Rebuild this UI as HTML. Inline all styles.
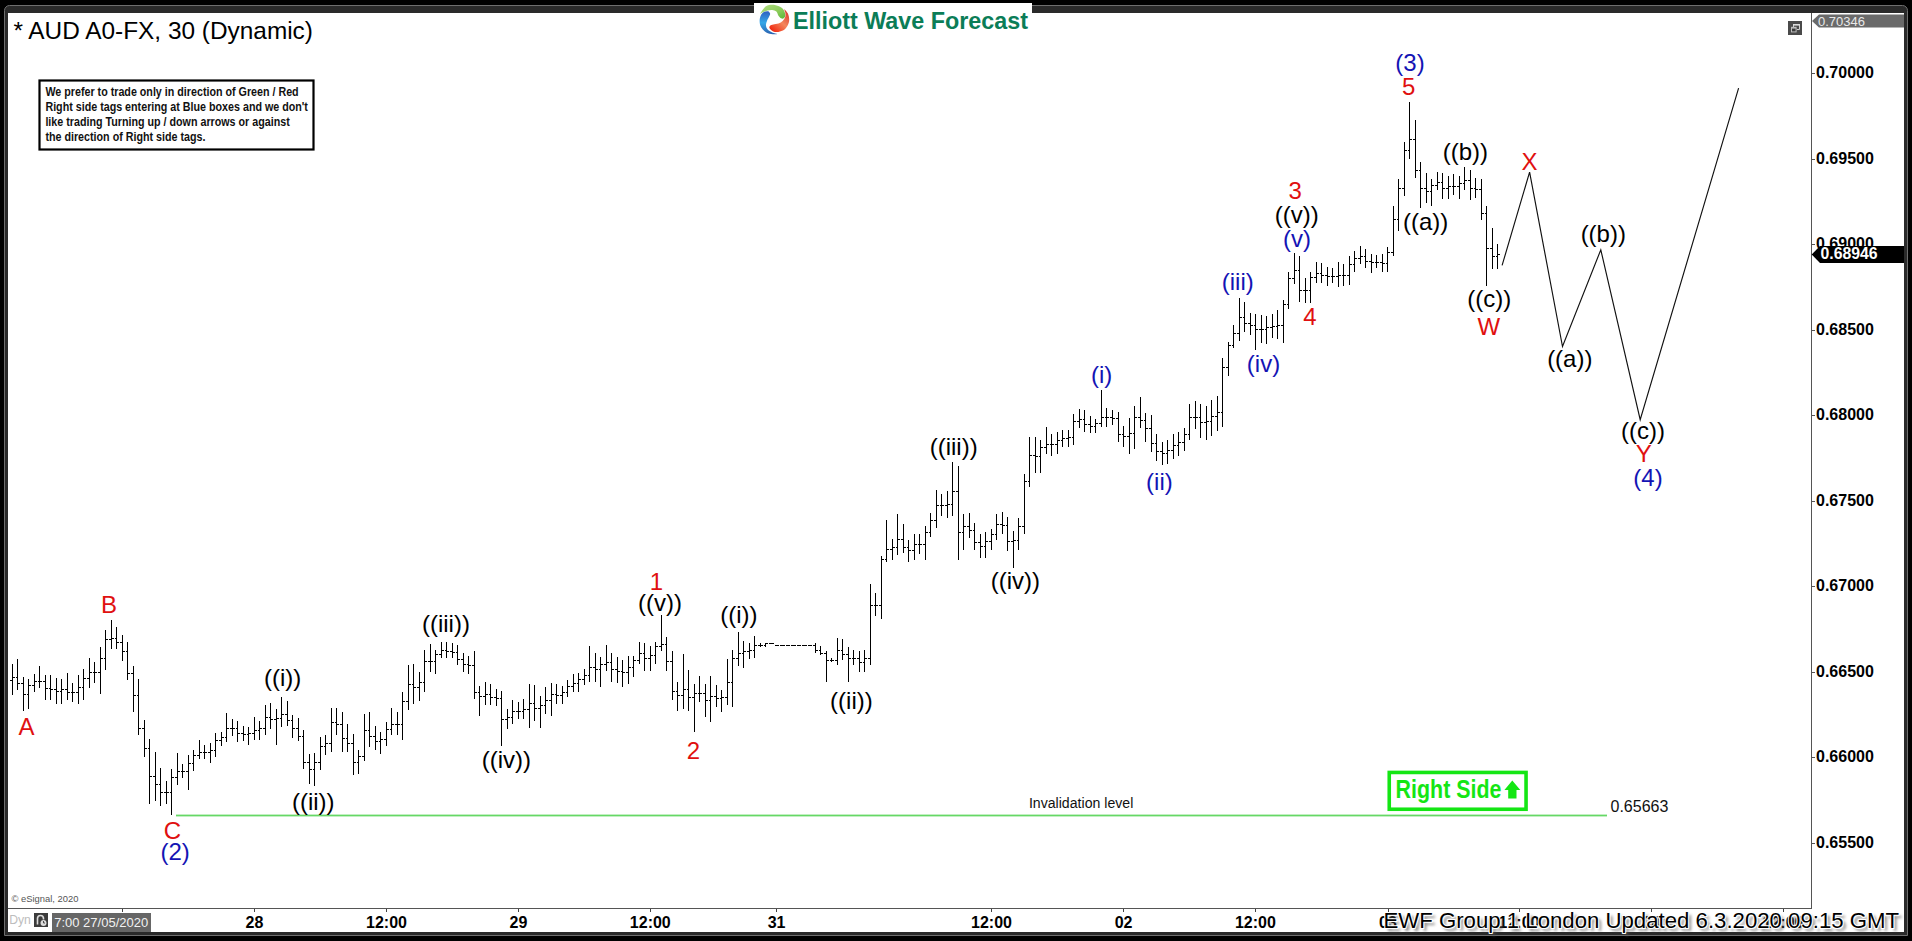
<!DOCTYPE html>
<html><head><meta charset="utf-8"><style>
html,body{margin:0;padding:0;background:#000;width:1912px;height:941px;overflow:hidden}
svg{position:absolute;left:0;top:0;display:block}
text{font-family:"Liberation Sans",sans-serif}
</style></head><body>
<svg width="1912" height="941" viewBox="0 0 1912 941">
<defs>
<filter id="sh" x="-5%" y="-50%" width="110%" height="200%"><feGaussianBlur stdDeviation="1.4"/></filter>
<linearGradient id="gG" x1="0" y1="0" x2="1" y2="1"><stop offset="0" stop-color="#b0dc80"/><stop offset="0.6" stop-color="#8ccb5a"/><stop offset="1" stop-color="#58b838"/></linearGradient>
<linearGradient id="gR" x1="0.8" y1="0" x2="0.1" y2="0.9"><stop offset="0" stop-color="#d83a30"/><stop offset="0.5" stop-color="#f4875c"/><stop offset="1" stop-color="#f02a12"/></linearGradient>
<linearGradient id="gB" x1="0" y1="0" x2="0" y2="1"><stop offset="0" stop-color="#2f5fbf"/><stop offset="0.5" stop-color="#35a8e8"/><stop offset="1" stop-color="#2a62b0"/></linearGradient>
</defs>
<rect x="0" y="0" width="1912" height="941" fill="#000"/>
<path d="M4.5 935.5V10.5A5 5 0 0 1 9.5 5.5H1902.5A5 5 0 0 1 1907.5 10.5V935.5Z" fill="#2a2a2a" stroke="#6e6e6e" stroke-width="1"/>
<rect x="8" y="13" width="1896" height="919" fill="#fff"/>
<!-- logo box -->
<rect x="754" y="3" width="278" height="12" fill="#fff"/>
<g>
<path d="M760.17 13.60C760.60 12.64 763.92 7.76 765.92 6.28C767.93 4.79 770.02 4.71 772.20 4.71C774.38 4.71 777.08 5.40 779.00 6.28C780.91 7.15 782.66 8.46 783.70 9.94C784.75 11.42 785.27 13.77 785.27 15.17C785.27 16.56 784.40 17.78 783.70 18.31C783.01 18.83 781.96 18.74 781.09 18.31C780.22 17.87 779.26 16.82 778.47 15.69C777.69 14.56 777.43 12.47 776.38 11.51C775.33 10.55 773.68 10.11 772.20 9.94C770.71 9.76 768.97 10.11 767.49 10.46C766.01 10.81 764.53 11.51 763.31 12.03C762.09 12.55 759.73 14.56 760.17 13.60Z" fill="url(#gG)"/>
<path d="M784.23 9.15C784.66 9.33 787.06 11.81 787.89 13.60C788.72 15.39 789.19 17.96 789.19 19.87C789.19 21.79 788.72 23.45 787.89 25.10C787.06 26.76 785.79 28.68 784.23 29.81C782.66 30.94 780.30 31.64 778.47 31.90C776.64 32.17 774.72 31.99 773.24 31.38C771.76 30.77 770.10 29.20 769.58 28.24C769.06 27.28 769.49 26.24 770.10 25.63C770.71 25.02 771.85 24.93 773.24 24.58C774.64 24.23 776.90 24.15 778.47 23.54C780.04 22.93 781.52 22.05 782.66 20.92C783.79 19.79 784.84 18.13 785.27 16.74C785.71 15.34 785.45 13.82 785.27 12.55C785.10 11.29 783.79 8.98 784.23 9.15Z" fill="url(#gR)"/>
<path d="M777.43 34.00C777.25 34.26 773.24 34.43 771.15 34.00C769.06 33.56 766.62 32.69 764.87 31.38C763.13 30.07 761.56 27.89 760.69 26.15C759.82 24.41 759.64 22.66 759.64 20.92C759.64 19.18 759.99 17.17 760.69 15.69C761.39 14.21 762.61 12.77 763.83 12.03C765.05 11.29 766.97 10.98 768.01 11.24C769.06 11.51 769.93 12.68 770.10 13.60C770.28 14.51 769.58 15.52 769.06 16.74C768.54 17.96 767.49 19.53 766.97 20.92C766.44 22.32 765.83 23.71 765.92 25.10C766.01 26.50 766.44 28.07 767.49 29.29C768.54 30.51 770.54 31.64 772.20 32.43C773.85 33.21 777.60 33.73 777.43 34.00Z" fill="url(#gB)"/>
</g>
<g transform="translate(792.9 0) scale(0.981 1)"><text x="0" y="29.2" font-size="23.8" font-weight="bold" fill="#0b7d57">Elliott Wave Forecast</text></g>
<!-- title -->
<text x="13.4" y="38.8" font-size="24.4" fill="#000">* AUD A0-FX, 30 (Dynamic)</text>
<!-- note box -->
<rect x="39.5" y="80.5" width="274" height="69" fill="#fff" stroke="#000" stroke-width="2.2"/>
<g font-size="13" font-weight="bold" fill="#111" transform="translate(45.4 0) scale(0.824 1)">
<text x="0" y="96.4">We prefer to trade only in direction of Green / Red</text>
<text x="0" y="111.4">Right side tags entering at Blue boxes and we don't</text>
<text x="0" y="126.4">like trading Turning up / down arrows or against</text>
<text x="0" y="141.4">the direction of Right side tags.</text>
</g>
<!-- restore icon -->
<rect x="1788" y="21" width="14" height="14" fill="#4a4a4a"/>
<path d="M1793.5 29V24.5H1799.5V29.5H1797" fill="none" stroke="#cfcfcf" stroke-width="1"/><rect x="1793" y="24" width="7" height="1.6" fill="#dcdcdc"/>
<rect x="1791" y="26.8" width="5.6" height="5.6" fill="#bdbdbd"/><rect x="1792" y="28.6" width="3.6" height="2.8" fill="#3a3a3a"/>
<!-- axes -->
<path d="M1811.5 13V908.5M8 908.5H1811.5" stroke="#555" stroke-width="1" fill="none" shape-rendering="crispEdges"/>
<path d="M1811 73.5H1815M1811 159.5H1815M1811 244.5H1815M1811 330.5H1815M1811 415.5H1815M1811 501.5H1815M1811 586.5H1815M1811 672.5H1815M1811 757.5H1815M1811 843.5H1815" stroke="#555" stroke-width="1" fill="none" shape-rendering="crispEdges"/>
<path d="M122.5 909V912M254.5 909V912M386.5 909V912M518.5 909V912M650.5 909V912M776.5 909V912M991.5 909V912M1123.5 909V912M1255.5 909V912M1388.5 909V912M1519.5 909V912M1651.5 909V912M1783.5 909V912" stroke="#444" stroke-width="1" fill="none" shape-rendering="crispEdges"/>
<g font-size="16" font-weight="bold" fill="#000"><text x="1816" y="78">0.70000</text><text x="1816" y="164">0.69500</text><text x="1816" y="249">0.69000</text><text x="1816" y="335">0.68500</text><text x="1816" y="420">0.68000</text><text x="1816" y="506">0.67500</text><text x="1816" y="591">0.67000</text><text x="1816" y="677">0.66500</text><text x="1816" y="762">0.66000</text><text x="1816" y="848">0.65500</text></g>
<g font-size="16" font-weight="bold" fill="#000" text-anchor="middle"><text x="254.4" y="927.5">28</text><text x="386.5" y="927.5">12:00</text><text x="518.5" y="927.5">29</text><text x="650.3" y="927.5">12:00</text><text x="776.6" y="927.5">31</text><text x="991.5" y="927.5">12:00</text><text x="1123.6" y="927.5">02</text><text x="1255.4" y="927.5">12:00</text><text x="1388" y="927.5">03</text><text x="1519" y="927.5">12:00</text><text x="1651.5" y="927.5">04</text><text x="1783" y="927.5">12:00</text></g>
<!-- top price label -->
<path d="M1812 21 L1819 14.5 H1904 V27.5 H1819 Z" fill="#6a6a6a"/>
<text x="1818" y="25.6" font-size="13" fill="#e8e8e8">0.70346</text>
<!-- bars -->
<path d="M12.5 664V695M10 680.5H12M13 677.5H15M17.5 659V690M16 677.5H17M18 683.5H20M23.5 677V711M21 683.5H23M24 694.5H26M28.5 679V709M27 694.5H28M29 685.5H31M34.5 674V692M32 685.5H34M35 681.5H37M39.5 666V688M38 681.5H39M40 681.5H42M45.5 675V700M43 681.5H45M46 688.5H48M50.5 675V700M49 688.5H50M51 689.5H53M56.5 678V704M54 689.5H56M57 691.5H59M61.5 679V704M60 691.5H61M62 689.5H64M67.5 673V700M65 689.5H67M68 692.5H70M72.5 683V702M71 692.5H72M73 692.5H75M78.5 675V704M76 692.5H78M79 687.5H81M83.5 669V700M82 687.5H83M84 678.5H86M89.5 658V688M87 678.5H89M90 672.5H92M94.5 662V683M93 672.5H94M95 672.5H97M100.5 647V694M98 672.5H100M101 658.5H103M105.5 630V670M104 658.5H105M106 639.5H108M111.5 620V649M109 639.5H111M112 638.5H114M116.5 627V649M115 638.5H116M117 642.5H119M122.5 635V661M120 642.5H122M123 651.5H125M127.5 642V680M126 651.5H127M128 673.5H130M133.5 666V712M131 673.5H133M134 695.5H136M138.5 679V735M137 695.5H138M139 728.5H141M144.5 720V757M142 728.5H144M145 748.5H147M149.5 739V804M148 748.5H149M150 776.5H152M155.5 752V801M153 776.5H155M156 784.5H158M160.5 768V806M159 784.5H160M161 792.5H163M166.5 781V804M164 792.5H166M167 792.5H169M171.5 769V815M170 792.5H171M172 777.5H174M177.5 753V785M175 777.5H177M178 771.5H180M182.5 764V778M181 771.5H182M183 771.5H185M188.5 755V790M186 771.5H188M189 763.5H191M193.5 750V771M192 763.5H193M194 755.5H196M199.5 740V759M197 755.5H199M200 752.5H202M204.5 745V759M203 752.5H204M205 752.5H207M210.5 743V763M208 752.5H210M211 750.5H213M215.5 733V757M214 750.5H215M216 740.5H218M221.5 732V746M219 740.5H221M222 737.5H224M226.5 713V742M225 737.5H226M227 728.5H229M232.5 719V736M230 728.5H232M233 728.5H235M237.5 721V742M236 728.5H237M238 733.5H240M243.5 726V741M241 733.5H243M244 734.5H246M248.5 727V745M247 734.5H248M249 733.5H251M254.5 717V740M252 733.5H254M255 730.5H257M259.5 721V740M258 730.5H259M260 728.5H262M265.5 705V735M263 728.5H265M266 717.5H268M270.5 703V729M269 717.5H270M271 719.5H273M276.5 709V745M274 719.5H276M277 718.5H279M281.5 697V727M280 718.5H281M282 714.5H284M287.5 701V726M285 714.5H287M288 720.5H290M292.5 715V738M291 720.5H292M293 728.5H295M298.5 718V741M296 728.5H298M299 736.5H301M303.5 730V769M302 736.5H303M304 762.5H306M309.5 754V784M307 762.5H309M310 769.5H312M314.5 753V786M313 769.5H314M315 762.5H317M320.5 737V770M318 762.5H320M321 746.5H323M325.5 735V755M324 746.5H325M326 743.5H328M331.5 708V752M329 743.5H331M332 722.5H334M336.5 708V735M335 722.5H336M337 724.5H339M342.5 712V752M340 724.5H342M343 738.5H345M347.5 724V752M346 738.5H347M348 743.5H350M353.5 734V775M351 743.5H353M354 762.5H356M358.5 750V774M357 762.5H358M359 756.5H361M364.5 714V761M362 756.5H364M365 730.5H367M369.5 712V747M368 730.5H369M370 736.5H372M375.5 726V750M373 736.5H375M376 741.5H378M380.5 732V754M379 741.5H380M381 739.5H383M386.5 722V746M384 739.5H386M387 729.5H389M391.5 708V735M390 729.5H391M392 724.5H394M397.5 712V735M395 724.5H397M398 724.5H400M402.5 692V740M401 724.5H402M403 701.5H405M408.5 665V710M406 701.5H408M409 684.5H411M413.5 664V704M412 684.5H413M414 687.5H416M419.5 672V701M417 687.5H419M420 682.5H422M424.5 650V692M423 682.5H424M425 661.5H427M430.5 644V672M428 661.5H430M431 661.5H433M435.5 650V674M434 661.5H435M436 654.5H438M441.5 642V658M439 654.5H441M442 650.5H444M446.5 642V658M445 650.5H446M447 651.5H449M452.5 643V658M450 651.5H452M453 652.5H455M457.5 645V665M456 652.5H457M458 659.5H460M463.5 653V672M461 659.5H463M464 664.5H466M468.5 656V674M467 664.5H468M469 665.5H471M474.5 651V699M472 665.5H474M475 692.5H477M479.5 686V716M478 692.5H479M480 696.5H482M485.5 682V705M483 696.5H485M486 694.5H488M490.5 684V705M489 694.5H490M491 697.5H493M496.5 689V706M494 697.5H496M497 698.5H499M501.5 691V746M500 698.5H501M502 719.5H504M507.5 709V729M505 719.5H507M508 717.5H510M512.5 700V724M511 717.5H512M513 711.5H515M518.5 702V719M516 711.5H518M519 711.5H521M523.5 699V719M522 711.5H523M524 709.5H526M529.5 684V728M527 709.5H529M530 703.5H532M534.5 685V721M533 703.5H534M535 708.5H537M540.5 696V728M538 708.5H540M541 705.5H543M545.5 687V714M544 705.5H545M546 700.5H548M551.5 683V716M549 700.5H551M552 694.5H554M556.5 684V704M555 694.5H556M557 695.5H559M562.5 686V704M560 695.5H562M563 692.5H565M567.5 680V697M566 692.5H567M568 686.5H570M573.5 674V692M571 686.5H573M574 683.5H576M578.5 673V692M577 683.5H578M579 679.5H581M584.5 669V685M582 679.5H584M585 675.5H587M589.5 646V682M588 675.5H589M590 667.5H592M595.5 653V682M593 667.5H595M596 669.5H598M600.5 657V687M599 669.5H600M601 664.5H603M606.5 645V671M604 664.5H606M607 662.5H609M611.5 653V682M610 662.5H611M612 669.5H614M617.5 657V683M615 669.5H617M618 671.5H620M622.5 660V687M621 671.5H622M623 672.5H625M628.5 656V684M626 672.5H628M629 667.5H631M633.5 656V677M632 667.5H633M634 660.5H636M639.5 642V664M637 660.5H639M640 653.5H642M644.5 643V671M643 653.5H644M645 658.5H647M650.5 646V671M648 658.5H650M651 655.5H653M655.5 642V664M654 655.5H655M656 646.5H658M661.5 615V651M659 646.5H661M662 644.5H664M666.5 637V671M665 644.5H666M667 661.5H669M672.5 651V700M670 661.5H672M673 691.5H675M677.5 682V711M676 691.5H677M678 695.5H680M683.5 654V709M681 695.5H683M684 689.5H686M688.5 670V711M687 689.5H688M689 697.5H691M694.5 684V732M692 697.5H694M695 693.5H697M699.5 676V702M698 693.5H699M700 693.5H702M705.5 684V717M703 693.5H705M706 700.5H708M710.5 676V722M709 700.5H710M711 696.5H713M716.5 685V707M714 696.5H716M717 698.5H719M721.5 690V712M720 698.5H721M722 697.5H724M727.5 659V705M725 697.5H727M728 682.5H730M732.5 650V707M731 682.5H732M733 658.5H735M738.5 632V666M736 658.5H738M739 653.5H741M743.5 641V668M742 653.5H743M744 651.5H746M749.5 643V659M747 651.5H749M750 650.5H752M754.5 636V658M753 650.5H754M755 645.5H757M760.5 643V647M758 645.5H760M761 645.5H763M765.5 643V647M764 645.5H765M766 643.5H768M771.5 643V644M769 643.5H771M772 643.5H774M776.5 645V646M775 645.5H776M777 645.5H779M782.5 645V646M780 645.5H782M783 645.5H785M787.5 645V646M786 645.5H787M788 645.5H790M793.5 645V646M791 645.5H793M794 645.5H796M798.5 645V646M797 645.5H798M799 645.5H801M804.5 645V646M802 645.5H804M805 645.5H807M809.5 645V646M808 645.5H809M810 645.5H812M815.5 643V653M813 645.5H815M816 650.5H818M820.5 646V655M819 650.5H820M821 653.5H823M826.5 651V682M824 653.5H826M827 660.5H829M831.5 658V662M830 660.5H831M832 660.5H834M837.5 638V665M835 660.5H837M838 650.5H840M842.5 639V660M841 650.5H842M843 654.5H845M848.5 647V682M846 654.5H848M849 658.5H851M853.5 650V665M852 658.5H853M854 658.5H856M859.5 651V672M857 658.5H859M860 662.5H862M864.5 650V672M863 662.5H864M865 658.5H867M870.5 584V665M868 658.5H870M871 605.5H873M875.5 593V616M874 605.5H875M876 605.5H878M881.5 556V619M879 605.5H881M882 559.5H884M886.5 520V562M885 559.5H886M887 549.5H889M892.5 539V560M890 549.5H892M893 547.5H895M897.5 514V555M896 547.5H897M898 539.5H900M903.5 524V553M901 539.5H903M904 547.5H906M908.5 540V562M907 547.5H908M909 550.5H911M914.5 534V560M912 550.5H914M915 544.5H917M919.5 534V554M918 544.5H919M920 544.5H922M925.5 526V560M923 544.5H925M926 532.5H928M930.5 513V537M929 532.5H930M931 520.5H933M936.5 490V528M934 520.5H936M937 505.5H939M941.5 494V516M940 505.5H941M942 505.5H944M947.5 491V518M945 505.5H947M948 504.5H950M952.5 462V516M951 504.5H952M953 491.5H955M958.5 466V560M956 491.5H958M959 532.5H961M963.5 514V550M962 532.5H963M964 526.5H966M969.5 513V538M967 526.5H969M970 530.5H972M974.5 523V550M973 530.5H974M975 542.5H977M980.5 534V558M978 542.5H980M981 546.5H983M985.5 532V558M984 546.5H985M986 541.5H988M991.5 529V550M989 541.5H991M992 534.5H994M996.5 514V540M995 534.5H996M997 524.5H999M1002.5 512V534M1000 524.5H1002M1003 525.5H1005M1007.5 517V551M1006 525.5H1007M1008 541.5H1010M1013.5 531V568M1011 541.5H1013M1014 540.5H1016M1018.5 518V550M1017 540.5H1018M1019 526.5H1021M1024.5 474V534M1022 526.5H1024M1025 481.5H1027M1029.5 437V487M1028 481.5H1029M1030 455.5H1032M1035.5 437V473M1033 455.5H1035M1036 456.5H1038M1040.5 440V473M1039 456.5H1040M1041 447.5H1043M1046.5 427V454M1044 447.5H1046M1047 444.5H1049M1051.5 434V456M1050 444.5H1051M1052 444.5H1054M1057.5 432V454M1055 444.5H1057M1058 440.5H1060M1062.5 430V447M1061 440.5H1062M1063 438.5H1065M1068.5 430V447M1066 438.5H1068M1069 437.5H1071M1073.5 414V445M1072 437.5H1073M1074 421.5H1076M1079.5 409V428M1077 421.5H1079M1080 419.5H1082M1084.5 410V432M1083 419.5H1084M1085 424.5H1087M1090.5 416V433M1088 424.5H1090M1091 426.5H1093M1095.5 419V433M1094 426.5H1095M1096 423.5H1098M1101.5 390V427M1099 423.5H1101M1102 417.5H1104M1106.5 408V427M1105 417.5H1106M1107 417.5H1109M1112.5 410V425M1110 417.5H1112M1113 418.5H1115M1118.5 412V442M1116 418.5H1118M1119 434.5H1121M1123.5 426V447M1122 434.5H1123M1124 436.5H1126M1129.5 418V454M1127 436.5H1129M1130 433.5H1132M1134.5 406V449M1133 433.5H1134M1135 417.5H1137M1140.5 397V428M1138 417.5H1140M1141 420.5H1143M1145.5 413V442M1144 420.5H1145M1146 428.5H1148M1151.5 415V452M1149 428.5H1151M1152 443.5H1154M1156.5 434V461M1155 443.5H1156M1157 451.5H1159M1162.5 442V465M1160 451.5H1162M1163 453.5H1165M1167.5 440V464M1166 453.5H1167M1168 450.5H1170M1173.5 434V459M1171 450.5H1173M1174 445.5H1176M1178.5 432V456M1177 445.5H1178M1179 442.5H1181M1184.5 428V451M1182 442.5H1184M1185 434.5H1187M1189.5 404V440M1188 434.5H1189M1190 417.5H1192M1195.5 401V429M1193 417.5H1195M1196 417.5H1198M1200.5 404V438M1199 417.5H1200M1201 422.5H1203M1206.5 406V440M1204 422.5H1206M1207 421.5H1209M1211.5 400V436M1210 421.5H1211M1212 416.5H1214M1217.5 396V431M1215 416.5H1217M1218 412.5H1220M1222.5 358V427M1221 412.5H1222M1223 367.5H1225M1228.5 342V376M1226 367.5H1228M1229 345.5H1231M1233.5 325V348M1232 345.5H1233M1234 333.5H1236M1239.5 298V341M1237 333.5H1239M1240 317.5H1242M1244.5 302V332M1243 317.5H1244M1245 323.5H1247M1250.5 313V335M1248 323.5H1250M1251 325.5H1253M1255.5 314V350M1254 325.5H1255M1256 329.5H1258M1261.5 315V343M1259 329.5H1261M1262 329.5H1264M1266.5 316V344M1265 329.5H1266M1267 327.5H1269M1272.5 314V338M1270 327.5H1272M1273 326.5H1275M1277.5 310V339M1276 326.5H1277M1278 325.5H1280M1283.5 300V343M1281 325.5H1283M1284 304.5H1286M1288.5 272V309M1287 304.5H1288M1289 278.5H1291M1294.5 253V284M1292 278.5H1294M1295 270.5H1297M1299.5 256V302M1298 270.5H1299M1300 290.5H1302M1305.5 278V303M1303 290.5H1305M1306 290.5H1308M1310.5 272V303M1309 290.5H1310M1311 277.5H1313M1316.5 262V283M1314 277.5H1316M1317 273.5H1319M1321.5 263V283M1320 273.5H1321M1322 275.5H1324M1327.5 267V286M1325 275.5H1327M1328 276.5H1330M1332.5 268V283M1331 276.5H1332M1333 276.5H1335M1338.5 262V287M1336 276.5H1338M1339 275.5H1341M1343.5 264V286M1342 275.5H1343M1344 275.5H1346M1349.5 256V285M1347 275.5H1349M1350 264.5H1352M1354.5 251V272M1353 264.5H1354M1355 258.5H1357M1360.5 246V264M1358 258.5H1360M1361 256.5H1363M1365.5 249V268M1364 256.5H1365M1366 261.5H1368M1371.5 254V273M1369 261.5H1371M1372 262.5H1374M1376.5 255V268M1375 262.5H1376M1377 262.5H1379M1382.5 254V272M1380 262.5H1382M1383 263.5H1385M1387.5 247V272M1386 263.5H1387M1388 252.5H1390M1393.5 206V256M1391 252.5H1393M1394 219.5H1396M1398.5 179V231M1397 219.5H1398M1399 188.5H1401M1404.5 142V196M1402 188.5H1404M1405 150.5H1407M1409.5 102V159M1408 150.5H1409M1410 139.5H1412M1415.5 120V178M1413 139.5H1415M1416 170.5H1418M1420.5 162V208M1419 170.5H1420M1421 188.5H1423M1426.5 173V203M1424 188.5H1426M1427 191.5H1429M1431.5 179V206M1430 191.5H1431M1432 185.5H1434M1437.5 172V190M1435 185.5H1437M1438 182.5H1440M1442.5 173V199M1441 182.5H1442M1443 188.5H1445M1448.5 176V199M1446 188.5H1448M1449 186.5H1451M1453.5 174V195M1452 186.5H1453M1454 186.5H1456M1459.5 176V199M1457 186.5H1459M1460 183.5H1462M1464.5 167V190M1463 183.5H1464M1465 180.5H1467M1470.5 170V200M1468 180.5H1470M1471 188.5H1473M1475.5 178V198M1474 188.5H1475M1476 189.5H1478M1481.5 179V220M1479 189.5H1481M1482 213.5H1484M1486.5 206V286M1485 213.5H1486M1487 248.5H1489M1492.5 228V269M1490 248.5H1492M1493 256.5H1495M1497.5 244V269M1496 256.5H1497M1498 254.5H1500" stroke="#000" stroke-width="1" fill="none" shape-rendering="crispEdges"/>
<!-- invalidation -->
<rect x="176" y="814.6" width="1431" height="1.8" fill="#66d866"/>
<g transform="translate(1028.9 0) scale(0.942 1)"><text x="0" y="808" font-size="15" fill="#111">Invalidation level</text></g>
<text x="1610.5" y="811.8" font-size="16" fill="#111">0.65663</text>
<!-- projection -->
<polyline points="1502.1,265.4 1529.6,172.1 1562.5,346.5 1600.8,249.8 1640.2,419.7 1738.6,88.2" fill="none" stroke="#111" stroke-width="1.15"/>
<!-- labels -->
<g font-size="24" text-anchor="middle"><text x="26.4" y="735.3" fill="#e01010">A</text><text x="109.1" y="613" fill="#e01010">B</text><text x="172.5" y="838.5" fill="#e01010">C</text><text x="175.1" y="860" fill="#1414b4">(2)</text><text x="282.7" y="686" fill="#000">((i))</text><text x="313.3" y="810.3" fill="#000">((ii))</text><text x="445.9" y="632" fill="#000">((iii))</text><text x="506.35" y="768" fill="#000">((iv))</text><text x="656.4" y="589.9" fill="#e01010">1</text><text x="659.9" y="611.1" fill="#000">((v))</text><text x="693.4" y="759" fill="#e01010">2</text><text x="738.9" y="623.1" fill="#000">((i))</text><text x="851.4" y="709.2" fill="#000">((ii))</text><text x="953.7" y="455.1" fill="#000">((iii))</text><text x="1015.3" y="589" fill="#000">((iv))</text><text x="1101.7" y="382.9" fill="#1414b4">(i)</text><text x="1159.4" y="490" fill="#1414b4">(ii)</text><text x="1237.8" y="289.9" fill="#1414b4">(iii)</text><text x="1263.5" y="372.1" fill="#1414b4">(iv)</text><text x="1295.3" y="198.8" fill="#e01010">3</text><text x="1296.8" y="223" fill="#000">((v))</text><text x="1297" y="247.1" fill="#1414b4">(v)</text><text x="1310" y="324.6" fill="#e01010">4</text><text x="1410" y="71.1" fill="#1414b4">(3)</text><text x="1408.7" y="95.4" fill="#e01010">5</text><text x="1425.6" y="230.15" fill="#000">((a))</text><text x="1465.4" y="160.1" fill="#000">((b))</text><text x="1489.2" y="307" fill="#000">((c))</text><text x="1488.8" y="335" fill="#e01010">W</text><text x="1529.5" y="170" fill="#e01010">X</text><text x="1569.8" y="367.15" fill="#000">((a))</text><text x="1603.3" y="242" fill="#000">((b))</text><text x="1642.9" y="439" fill="#000">((c))</text><text x="1643.8" y="461.8" fill="#e01010">Y</text><text x="1648" y="486" fill="#1414b4">(4)</text></g>
<!-- right side box -->
<rect x="1389.25" y="772.45" width="136.8" height="36.8" fill="none" stroke="#14e614" stroke-width="3.6"/>
<g transform="translate(1395.6 0) scale(0.808 1)"><text x="0" y="798.5" font-size="26.5" font-weight="bold" fill="#14e614">Right Side</text></g>
<path d="M1512.3 780.4 L1520.3 790 H1516.5 V798.4 H1508.2 V790 H1504.4 Z" fill="#14e614"/>
<!-- current price label -->
<path d="M1811.7 254.5 L1820 246.1 H1904 V262.9 H1820 Z" fill="#000"/>
<text x="1820.5" y="259.2" font-size="15.8" font-weight="bold" fill="#fff">0.68946</text>
<!-- copyright -->
<text x="11.5" y="902.4" font-size="9.4" fill="#555">© eSignal, 2020</text>
<!-- bottom left -->
<text x="9.2" y="924.3" font-size="12.2" fill="#bdbdbd">Dyn</text>
<rect x="34" y="913" width="14" height="14" fill="#3c3c3c"/>
<path d="M37.5 924.5V918.5a3 3 0 0 1 6 0v1" fill="none" stroke="#ddd" stroke-width="1.6"/>
<circle cx="43.5" cy="923" r="3" fill="#ddd"/><path d="M43.5 921V923H45" stroke="#3c3c3c" stroke-width="0.9" fill="none"/>
<rect x="52" y="913" width="99" height="19" fill="#666"/>
<text x="54.2" y="927.2" font-size="13" fill="#f2f2f2">7:00 27/05/2020</text>
<!-- EWF overlay -->
<g font-size="22.2">
<text x="1386.5" y="930.5" fill="#555" opacity="0.8" filter="url(#sh)">EWF Group 1 London Updated 6.3.2020 09:15 GMT</text>
<text x="1383.5" y="927.5" fill="#000" stroke="#fff" stroke-width="2.2" stroke-linejoin="round">EWF Group 1 London Updated 6.3.2020 09:15 GMT</text>
<text x="1383.5" y="927.5" fill="#000">EWF Group 1 London Updated 6.3.2020 09:15 GMT</text>
</g>
</svg>
</body></html>
